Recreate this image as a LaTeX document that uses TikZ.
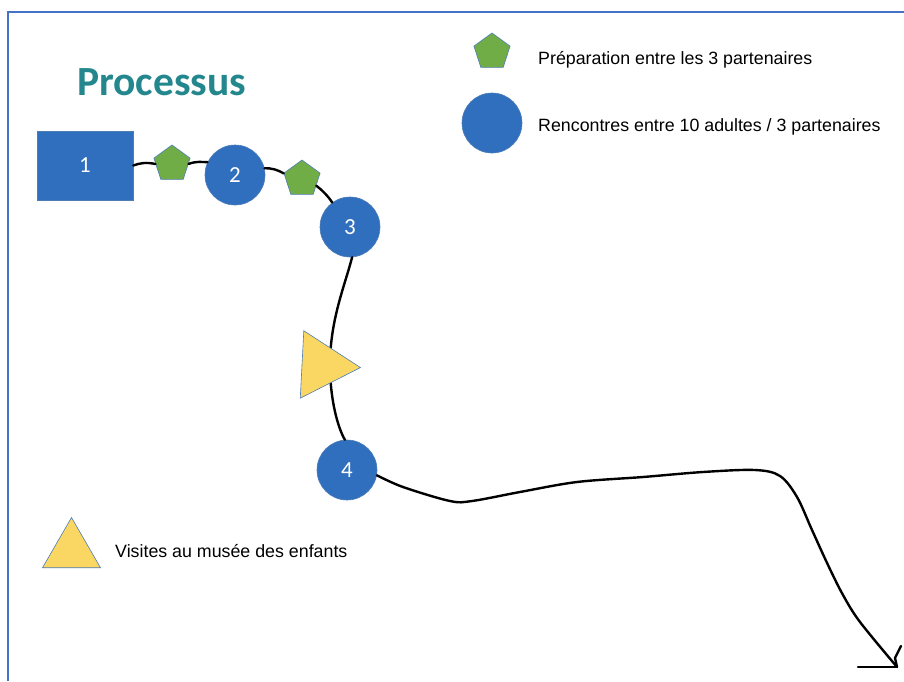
\documentclass[tikz,border=0pt]{standalone}
\usepackage{fontspec}
\setmainfont{Liberation Sans}
\newfontfamily\carlito{Carlito}
\usetikzlibrary{shapes.geometric}
\definecolor{nodeblue}{HTML}{2F6FBD}
\definecolor{edgeblue}{HTML}{4E7DB5}
\definecolor{pentgreen}{HTML}{70AD47}
\definecolor{triyellow}{HTML}{FAD763}
\definecolor{titleteal}{HTML}{23878D}
\definecolor{frameblue}{HTML}{4472C4}
\begin{document}
\begin{tikzpicture}[x=1pt,y=-1pt,
  bluecircle/.style={circle, fill=nodeblue, draw=edgeblue, line width=0.6pt, minimum size=60pt, inner sep=0pt, text=white, font=\carlito\fontsize{23}{23}\selectfont},
  bluerect/.style={rectangle, fill=nodeblue, draw=edgeblue, line width=0.6pt, minimum width=96pt, minimum height=69pt, inner sep=0pt, text=white, font=\carlito\fontsize{23}{23}\selectfont},
  pent/.style={regular polygon, regular polygon sides=5, fill=pentgreen, draw=edgeblue, line width=0.6pt, minimum size=38pt, inner sep=0pt},
  tri/.style={regular polygon, regular polygon sides=3, fill=triyellow, draw=edgeblue, line width=0.6pt, minimum size=78pt, inner sep=0pt},
  legtext/.style={anchor=base west, inner sep=0pt, font=\fontsize{17.8}{17.8}\selectfont},
  link/.style={line width=2.4pt, draw=black, line cap=round, line join=round},
  frameline/.style={line width=2.2pt, draw=frameblue}
]
\useasboundingbox (0,0) rectangle (904,681);
\draw[frameline] (8,681) -- (8,12) -- (904,12);

% title
\node[anchor=base west, inner sep=0pt, text=titleteal, font=\carlito\bfseries\fontsize{41.5}{41.5}\selectfont] (title) at (77,95) {Processus};

% process nodes
\node[bluerect] (n1) at (85,165.5) {1};
\node[pent] (p1) at (172,164) {};
\node[bluecircle] (n2) at (235,175) {2};
\node[pent] (p2) at (302,179) {};
\node[bluecircle] (n3) at (350,227) {3};
\node[bluecircle] (n4) at (347,470) {4};

% connectors
\draw[link] (n1.east) .. controls (140,163) and (146,162) .. (p1.west);
\draw[link] (p1.east) .. controls (196,161) and (202,162) .. (n2.155);
\draw[link] (n2.13) .. controls (272,168) and (278,170) .. (p2.163);
\draw[link] (p2.-25) .. controls (322,190) and (328,196) .. (n3.126);
\coordinate (tm) at (330,365);
\draw[link] (n3.-86) .. controls (345,285) and (330,320) .. (tm) .. controls (330,400) and (338,428) .. (n4.94);
\coordinate (tip) at (897,667);
\draw[link] plot[smooth, tension=0.55] coordinates {(n4.-10) (403,487) (450,501) (472,501) (520,492) (577,482) (643,477) (703,472) (755,470) (780,476) (797,497) (812,530) (828,565) (843,595) (860,622) (tip)};
\draw[link] (tip) -- ++(-39,0);
\draw[link] (tip) -- ++(-2,-9) -- ++(6,-12);

% triangle on the path
\node[tri, shape border rotate=-93] (t1) at (321.5,365.5) {};

% legend
\node[pent] (lp) at (492,52) {};
\node[legtext] (lpt) at (538,64) {Préparation entre les 3 partenaires};
\node[bluecircle] (lc) at (492,123) {};
\node[legtext] (lct) at (538,131) {Rencontres entre 10 adultes / 3 partenaires};
\node[tri, minimum size=67pt] (lt) at (71.5,551) {};
\node[legtext] (ltt) at (115,557) {Visites au musée des enfants};
\end{tikzpicture}
\end{document}
